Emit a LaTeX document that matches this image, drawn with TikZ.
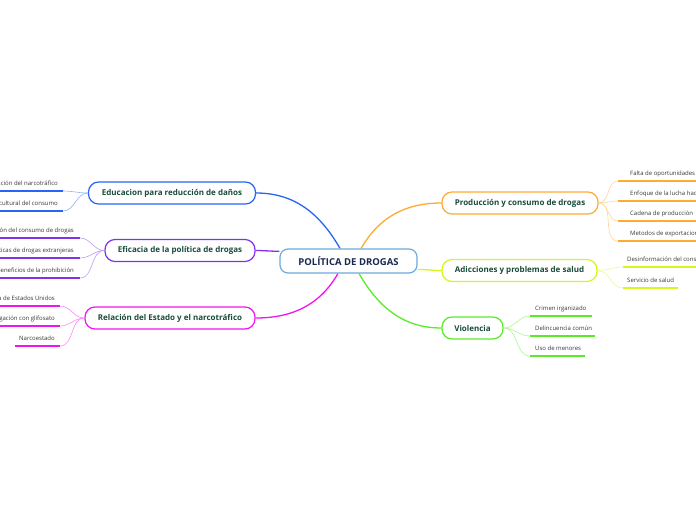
\documentclass[tikz,border=0pt]{standalone}
\usepackage{fontspec}
\setmainfont{Open Sans}
\usetikzlibrary{backgrounds}
\definecolor{rootline}{RGB}{110,170,220}
\definecolor{navy}{RGB}{25,40,80}
\definecolor{deepteal}{RGB}{25,75,60}
\definecolor{ink}{RGB}{55,55,55}
\definecolor{cEdu}{RGB}{40,100,245}
\definecolor{cEfi}{RGB}{130,50,235}
\definecolor{cRel}{RGB}{240,20,240}
\definecolor{cPro}{RGB}{255,170,50}
\definecolor{cAdi}{RGB}{215,245,30}
\definecolor{cVio}{RGB}{90,235,40}
\tikzset{
  root/.style={draw=rootline,line width=1.2pt,fill=white,rounded corners=8pt,
    minimum width=137pt,minimum height=24pt,inner sep=2pt,
    font=\fontsize{9.5}{11}\selectfont\bfseries,text=navy},
  topic/.style={draw=#1,line width=1.2pt,fill=white,rounded corners=10pt,
    minimum height=22pt,inner sep=2pt,
    font=\fontsize{8}{10}\selectfont\bfseries,text=deepteal},
  leaf/.style={font=\fontsize{6}{7}\selectfont,text=ink,inner sep=0pt},
  trunk/.style={draw=#1,line width=1.3pt},
  twig/.style={draw=#1!50,line width=0.6pt},
  uline/.style={draw=#1,line width=1.6pt},
}

\begin{document}
\begin{tikzpicture}[x=1pt,y=-1pt]
  \useasboundingbox (0,0) rectangle (696,520);
  \clip (0,0) rectangle (696,520);
  % centre and topics
  \node[root] (root) at (348.5,261) {POLÍTICA DE DROGAS};
  \node[topic=cEdu,minimum width=167pt] (edu) at (172,193) {Educacion para reducción de daños};
  \node[topic=cEfi,minimum width=150pt] (efi) at (180,250.5) {Eficacia de la política de drogas};
  \node[topic=cRel,minimum width=170pt] (rel) at (170,318) {Relación del Estado y el narcotráfico};
  \node[topic=cPro,minimum width=156pt] (pro) at (520,203) {Producción y consumo de drogas};
  \node[topic=cAdi,minimum width=155pt] (adi) at (519.5,270.5) {Adicciones y problemas de salud};
  \node[topic=cVio,minimum width=61pt] (vio) at (472.5,328) {Violencia};

  \begin{scope}[on background layer]
    \draw[trunk=cEdu] (root.124) to[out=120,in=0] (edu.east);
    \draw[trunk=cEfi] (root.172) to[out=180,in=0] (efi.east);
    \draw[trunk=cRel] (root.230) to[out=240,in=0] (rel.east);
    \draw[trunk=cPro] (root.45) to[out=60,in=180] (pro.west);
    \draw[trunk=cAdi] (root.353) to[out=0,in=180] (adi.west);
    \draw[trunk=cVio] (root.310) to[out=300,in=180] (vio.west);
  \end{scope}

  % left leaves
  \foreach \t/\y [count=\i] in {{ación del narcotráfico}/191,{cultural del consumo}/211}{
    \node[leaf,anchor=base east] (edu-\i) at (58,\y-5.5) {\t};
    \coordinate (edu-\i-l) at (-2,\y);
    \coordinate (edu-\i-r) at (63,\y);
    \draw[uline=cEdu] (edu-\i-l) -- (edu-\i-r);
    \draw[twig=cEdu] (edu.west) to[out=180,in=0] (edu-\i-r);
  }
  \foreach \t/\y [count=\i] in {{ión del consumo de drogas}/238,{ticas de drogas extranjeras}/258,{Beneficios de la prohibición}/278}{
    \node[leaf,anchor=base east] (efi-\i) at (74,\y-5.5) {\t};
    \coordinate (efi-\i-l) at (-2,\y);
    \coordinate (efi-\i-r) at (80,\y);
    \draw[uline=cEfi] (efi-\i-l) -- (efi-\i-r);
    \draw[twig=cEfi] (efi.west) to[out=180,in=0] (efi-\i-r);
  }
  \foreach \t/\y/\xs [count=\i] in {{a de Estados Unidos}/306/-2,{gación con glifosato}/326/-2,{Narcoestado}/346/15}{
    \node[leaf,anchor=base east] (rel-\i) at (55,\y-5.5) {\t};
    \coordinate (rel-\i-l) at (\xs,\y);
    \coordinate (rel-\i-r) at (60,\y);
    \draw[uline=cRel] (rel-\i-l) -- (rel-\i-r);
    \draw[twig=cRel] (rel.west) to[out=180,in=0] (rel-\i-r);
  }

  % right leaves
  \foreach \t/\y [count=\i] in {{Falta de oportunidades}/181,{Enfoque de la lucha hac}/201,{Cadena de producción}/221,{Metodos de exportacion}/241}{
    \node[leaf,anchor=base west] (pro-\i) at (630,\y-5.5) {\t};
    \coordinate (pro-\i-l) at (618,\y);
    \coordinate (pro-\i-r) at (698,\y);
    \draw[uline=cPro] (pro-\i-l) -- (pro-\i-r);
    \draw[twig=cPro] (pro.east) to[out=0,in=180] (pro-\i-l);
  }
  \foreach \t/\y/\xe [count=\i] in {{Desinformación del cons}/267/698,{Servicio de salud}/288/678}{
    \node[leaf,anchor=base west] (adi-\i) at (627,\y-5.5) {\t};
    \coordinate (adi-\i-l) at (623,\y);
    \coordinate (adi-\i-r) at (\xe,\y);
    \draw[uline=cAdi] (adi-\i-l) -- (adi-\i-r);
    \draw[twig=cAdi] (adi.east) to[out=0,in=180] (adi-\i-l);
  }
  \foreach \t/\y/\xe [count=\i] in {{Crimen irganizado}/316/592,{Delincuencia común}/336/595,{Uso de menores}/356/585}{
    \node[leaf,anchor=base west] (vio-\i) at (535,\y-5.5) {\t};
    \coordinate (vio-\i-l) at (530,\y);
    \coordinate (vio-\i-r) at (\xe,\y);
    \draw[uline=cVio] (vio-\i-l) -- (vio-\i-r);
    \draw[twig=cVio] (vio.east) to[out=0,in=180] (vio-\i-l);
  }
\end{tikzpicture}
\end{document}
